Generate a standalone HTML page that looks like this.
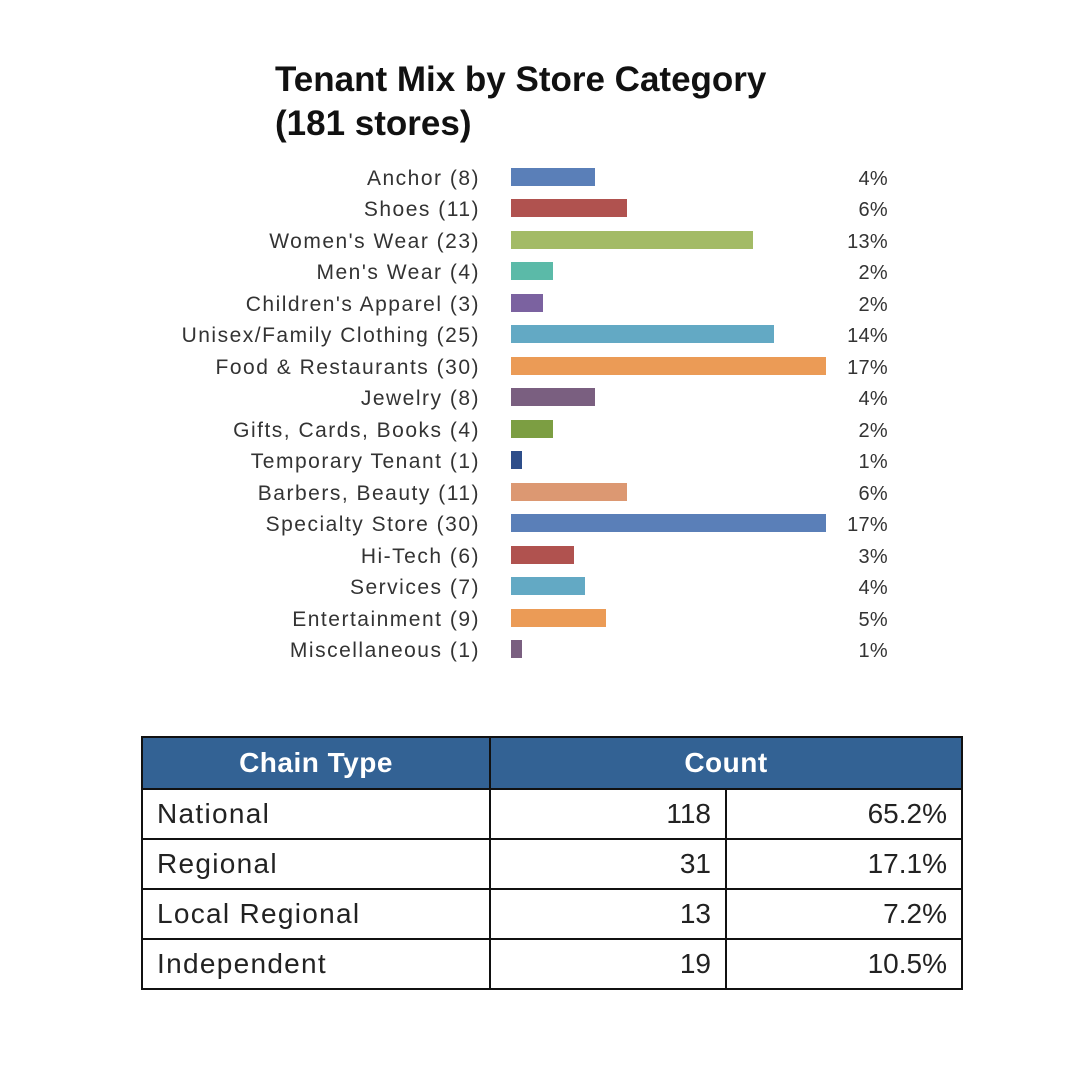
<!DOCTYPE html>
<html><head><meta charset="utf-8"><style>
body{margin:0;background:#fff;font-family:"Liberation Sans",sans-serif;}
#c{position:relative;width:1080px;height:1080px;overflow:hidden;}
.t{position:absolute;left:275px;top:58px;font-size:35px;font-weight:bold;line-height:44px;color:#111;}
.l{position:absolute;right:600px;font-size:21px;letter-spacing:1.5px;color:#333;white-space:nowrap;}
.b{position:absolute;left:511px;height:18px;}
.p{position:absolute;right:192px;font-size:20px;letter-spacing:0.3px;color:#333;}
table{position:absolute;left:141px;top:736px;border-collapse:collapse;}
td,th{border:2px solid #111;height:48px;padding:0 14px;font-size:28px;color:#222;letter-spacing:1.3px;}
td.n{text-align:right;letter-spacing:0;}
th{background:#336294;color:#fff;font-weight:bold;text-align:center;height:50px;letter-spacing:0.5px;}
</style></head><body><div id="c">
<div class="t">Tenant Mix by Store Category<br>(181 stores)</div>
<div id="rows"></div>
<table>
<tr><th style="width:318px">Chain Type</th><th colspan="2">Count</th></tr>
<tr><td style="text-align:left">National</td><td class="n" style="width:206px">118</td><td class="n" style="width:206px">65.2%</td></tr>
<tr><td>Regional</td><td class="n">31</td><td class="n">17.1%</td></tr>
<tr><td>Local Regional</td><td class="n">13</td><td class="n">7.2%</td></tr>
<tr><td>Independent</td><td class="n">19</td><td class="n">10.5%</td></tr>
</table>
</div>
<script>
var d=[["Anchor",8,"4%","#5a7fb8"],["Shoes",11,"6%","#b0524f"],["Women's Wear",23,"13%","#a3bb66"],["Men's Wear",4,"2%","#5bbaa8"],["Children's Apparel",3,"2%","#7b62a0"],["Unisex/Family Clothing",25,"14%","#63a9c4"],["Food & Restaurants",30,"17%","#eb9b56"],["Jewelry",8,"4%","#7a5f80"],["Gifts, Cards, Books",4,"2%","#7c9e42"],["Temporary Tenant",1,"1%","#2e4e8a"],["Barbers, Beauty",11,"6%","#dc9872"],["Specialty Store",30,"17%","#5a7fb8"],["Hi-Tech",6,"3%","#b0524f"],["Services",7,"4%","#63a9c4"],["Entertainment",9,"5%","#eb9b56"],["Miscellaneous",1,"1%","#7a5f80"]];
var h="";d.forEach(function(r,i){var y=177+i*31.47;
h+='<div class="l" style="top:'+(y-10)+'px">'+r[0].replace("&","&amp;")+' ('+r[1]+')</div>';
h+='<div class="b" style="top:'+(y-9)+'px;width:'+(r[1]*10.5)+'px;background:'+r[3]+'"></div>';
h+='<div class="p" style="top:'+(y-9)+'px">'+r[2]+'</div>';});
document.getElementById("rows").innerHTML=h;
</script></body></html>
